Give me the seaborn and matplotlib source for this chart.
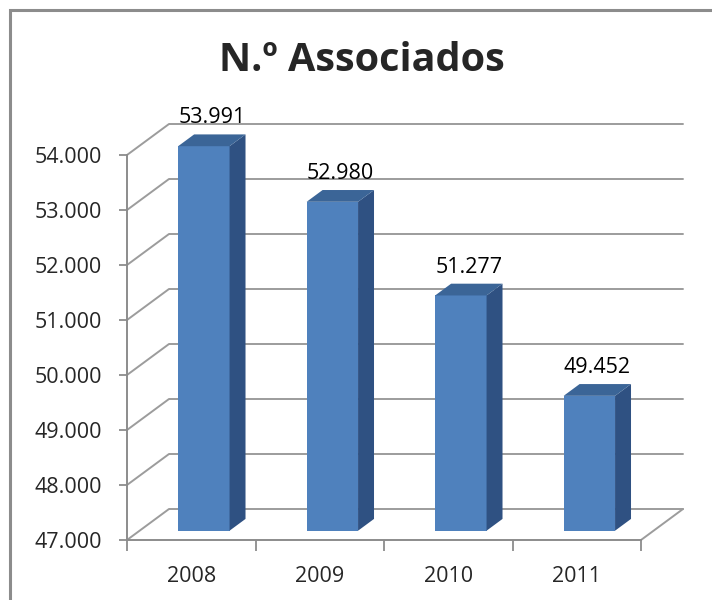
import matplotlib

matplotlib.use("Agg")

import matplotlib.pyplot as plt
import pandas as pd
import seaborn as sns
from matplotlib.patches import Polygon, Rectangle

years = ["2008", "2009", "2010", "2011"]
members = [53991, 52980, 51277, 49452]
member_labels = ["53.991", "52.980", "51.277", "49.452"]
y_ticks = [47000, 48000, 49000, 50000, 51000, 52000, 53000, 54000]
y_tick_labels = ["47.000", "48.000", "49.000", "50.000", "51.000", "52.000", "53.000", "54.000"]
title = "N.º Associados"

FRONT = "#4F81BD"
SIDE = "#2F5182"
TOP = "#3B6597"
GRID = "#9C9C9C"
AXIS = "#8C8C8C"
DEPTH_PX = (42, 31)  # pixel offset of the back wall
BAR_FRONT, BAR_BACK = 0.3, 0.68  # bar depth as fraction of the wall depth

sns.set_theme(style="white")
plt.rcParams["font.family"] = ["Open Sans", "DejaVu Sans"]

df = pd.DataFrame({"year": years, "members": members})

fig = plt.figure(figsize=(7.12, 6.0), dpi=100)
ax = fig.add_axes([127 / 712, 60 / 600, 514 / 712, 385 / 600])
sns.barplot(df, x="year", y="members", color=FRONT, width=0.4, saturation=1, ax=ax, zorder=3)

base = y_ticks[0]
x_left, x_right = -0.5, 3.5
ax.set_xlim(x_left, x_right)
ax.set_ylim(base, y_ticks[-1])

# depth offset in data units
px = ax.transData.transform((0, base))
ox, oy = ax.transData.inverted().transform((px[0] + DEPTH_PX[0], px[1] + DEPTH_PX[1]))
DX, DY = ox, oy - base

# back wall and floor
for t in y_ticks:
    ax.plot([x_left, x_left + DX, x_right + DX], [t, t + DY, t + DY],
            color=GRID, lw=1.4, clip_on=False, zorder=1)
ax.plot([x_right, x_right + DX], [base, base + DY], color=GRID, lw=1.4, clip_on=False, zorder=1)

# 3d bars
fx, fy = BAR_FRONT * DX, BAR_FRONT * DY
ddx, ddy = (BAR_BACK - BAR_FRONT) * DX, (BAR_BACK - BAR_FRONT) * DY
for p, lab in zip(ax.patches, member_labels):
    v = p.get_height()
    x0, w = p.get_x() + fx, p.get_width()
    p.set_x(x0)
    p.set_y(base + fy)
    p.set_height(v - base)
    p.set_edgecolor("none")
    p.set_clip_on(False)
    side = Polygon([(x0 + w, base + fy), (x0 + w, v + fy), (x0 + w + ddx, v + fy + ddy),
                    (x0 + w + ddx, base + fy + ddy)], closed=True, facecolor=SIDE,
                   edgecolor="none", clip_on=False, zorder=3)
    top = Polygon([(x0, v + fy), (x0 + w, v + fy), (x0 + w + ddx, v + fy + ddy),
                   (x0 + ddx, v + fy + ddy)], closed=True, facecolor=TOP,
                  edgecolor="none", clip_on=False, zorder=3)
    ax.add_patch(side)
    ax.add_patch(top)
    ax.annotate(lab, (x0 + w / 2 + ddx / 2, v + BAR_BACK * DY), xytext=(0, 12),
                textcoords="offset points", ha="center", va="center", fontsize=15.5,
                color="black", annotation_clip=False)

ax.set_yticks(y_ticks, y_tick_labels)
ax.set_xticks(range(len(years)), years)
ax.set_xticks([-0.5, 0.5, 1.5, 2.5, 3.5], minor=True)
ax.tick_params(axis="x", which="major", bottom=True, length=0, pad=19, labelsize=15.5)
ax.tick_params(axis="x", which="minor", bottom=True, length=8, width=1.3, color=AXIS, direction="out")
ax.tick_params(axis="y", left=True, length=6, width=1.3, color=AXIS, direction="out",
               pad=12, labelsize=15.5)
ax.set_xlabel("")
ax.set_ylabel("")
for s in ("top", "right"):
    ax.spines[s].set_visible(False)
for s in ("left", "bottom"):
    ax.spines[s].set_color(AXIS)
    ax.spines[s].set_linewidth(1.4)
    ax.spines[s].set_zorder(2)
ax.patch.set_alpha(0)

fig.text(362 / 712, 1 - 71 / 600, title, ha="center", va="baseline", fontsize=28.5, fontweight="bold")
fig.add_artist(Rectangle((9.5 / 712, -0.1), 1.2, 1.1 - 10 / 600, transform=fig.transFigure,
                         fill=False, edgecolor=AXIS, lw=2.2))

fig.savefig("out.png", dpi=100)
